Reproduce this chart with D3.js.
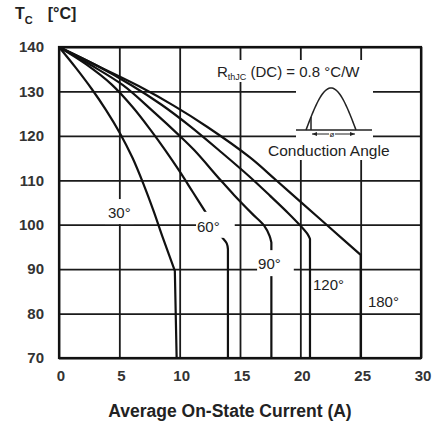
<!DOCTYPE html>
<html>
<head>
<meta charset="utf-8">
<script src="https://cdn.jsdelivr.net/npm/d3@7"></script>
<style>
  body { margin: 0; background: #fff; }
  text { font-family: "Liberation Sans", Arial, sans-serif; fill: #222; }
</style>
</head>
<body>
<div id="chart"></div>
<script>
// datos: corriente media (A) y temperatura de carcasa (°C)
var xTicks = [0, 5, 10, 15, 20, 25, 30];
var yTicks = [70, 80, 90, 100, 110, 120, 130, 140];
var angulos = ["30°", "60°", "90°", "120°", "180°"];

var curva30 = [[0,140],[1.4,135.3],[2.7,130.6],[3.9,125.8],[5.05,120.6],[6.1,115],[7.05,108.8],[7.85,103],[8.55,97.5],[9.15,93],[9.6,89.6],[9.75,70]];
var curva60 = [[0,140],[2.2,136.2],[4.35,131.6],[6.1,126.5],[7.6,121.3],[8.8,116.8],[10,112],[11.1,107.3],[12.2,102.6],[13.0,99.1],[13.5,97.2],[13.9,95.8],[14.0,94.5],[14.0,70]];
var curva90 = [[0,140],[2.6,136],[5.3,131.4],[7.8,125.5],[10.0,120],[11.2,116.8],[13.4,110],[14.5,106.7],[16.0,102.5],[17.0,99.8],[17.45,97.5],[17.6,96],[17.6,70]];
var curva120 = [[0,140],[3,136],[6,131.4],[8.5,127],[10.8,122.3],[13.5,116.2],[15.8,110.8],[17.5,106.5],[19,102.6],[20,99.8],[20.6,97.9],[20.8,96.8],[20.8,70]];
var curva180 = [[0,140],[3.3,135.6],[6.6,131.2],[9.5,126.8],[12.3,122],[15.8,115.2],[18,110],[20,105.2],[22.5,99.2],[25,93.2],[25,70]];

var curvas = [curva30, curva60, curva90, curva120, curva180];

var W = 432, H = 425;
var margin = {top: 47, right: 11, bottom: 67, left: 59};
var w = W - margin.left - margin.right,
    h = H - margin.top - margin.bottom;

var x = d3.scaleLinear().domain([0, 30]).range([0, w]);
var y = d3.scaleLinear().domain([70, 140]).range([h, 0]);

var svg = d3.select("#chart").append("svg")
  .attr("width", W).attr("height", H);

var g = svg.append("g")
  .attr("transform", "translate(" + margin.left + "," + margin.top + ")");

// rejilla
var xGrid = d3.axisBottom(x).tickValues(xTicks).tickSize(-h).tickFormat("");
var yGrid = d3.axisLeft(y).tickValues(yTicks).tickSize(-w).tickFormat("");
g.append("g").attr("class", "grid").attr("transform", "translate(0," + h + ")").call(xGrid);
g.append("g").attr("class", "grid").call(yGrid);
g.selectAll(".grid .domain").remove();
g.selectAll(".grid text").remove();
g.selectAll(".grid line").attr("stroke", "#1a1a1a").attr("stroke-width", 1.8);

// curvas: tramo suave y luego la bajada vertical
var suave = d3.line()
  .x(function(d) { return x(d[0]); })
  .y(function(d) { return y(d[1]); })
  .curve(d3.curveCatmullRom.alpha(0.5));

function trazo(d) {
  var ult = d[d.length - 1];
  return suave(d.slice(0, -1)) + "L" + x(ult[0]) + "," + y(ult[1]);
}

g.selectAll(".curva").data(curvas).enter().append("path")
  .attr("class", "curva")
  .attr("d", trazo)
  .attr("fill", "none")
  .attr("stroke", "#111")
  .attr("stroke-width", 2.2)
  .attr("stroke-linejoin", "round");

// etiquetas de los angulos (con fondo blanco que corta las lineas)
var posEtiq = [[4.06,101.5,3,7,3,5],[11.44,98.4,1,8,15,5],[16.5,90.0,1,7,13,6],[21.05,85.3,0,0,0,0],[25.6,81.5,0,0,0,0]];
angulos.forEach(function(a, i) {
  var p = posEtiq[i];
  var t = g.append("text")
    .attr("x", x(p[0])).attr("y", y(p[1]))
    .style("font-size", "15px")
    .text(a);
  if (p[2] || p[3] || p[4] || p[5]) {
    var b = t.node().getBBox();
    g.insert("rect", function() { return t.node(); })
      .attr("x", b.x - p[2]).attr("y", b.y + 2 - p[3])
      .attr("width", b.width + p[2] + p[4]).attr("height", b.height - 4 + p[3] + p[5])
      .attr("fill", "#fff");
  }
});

// leyenda: Rth y angulo de conduccion
var leg = svg.append("g");
leg.append("rect").attr("x", 213).attr("y", 60).attr("width", 160).attr("height", 22).attr("fill", "#fff");
leg.append("rect").attr("x", 296).attr("y", 82).attr("width", 77).attr("height", 56).attr("fill", "#fff");
leg.append("rect").attr("x", 265).attr("y", 138).attr("width", 136).attr("height", 22).attr("fill", "#fff");

var rth = leg.append("text").attr("x", 217).attr("y", 77).style("font-size", "15px");
rth.append("tspan").text("R");
rth.append("tspan").attr("dy", 3).style("font-size", "9px").text("thJC");
rth.append("tspan").attr("dy", -3).text(" (DC) = 0.8 °C/W");

// onda semisinusoidal recortada
var x0 = 306, x1 = 356, base = 130, alto = 42;
var onda = d3.range(0, 1.0001, 0.02).map(function(t) {
  return [x0 + t * (x1 - x0), base - alto * Math.sin(Math.PI * t)];
});
leg.append("path").attr("d", d3.line()(onda)).attr("fill", "none").attr("stroke", "#222").attr("stroke-width", 1.5);
var tc = 0.1;
leg.append("line").attr("x1", x0 + tc * (x1 - x0)).attr("x2", x0 + tc * (x1 - x0))
  .attr("y1", base).attr("y2", base - alto * Math.sin(Math.PI * tc))
  .attr("stroke", "#222").attr("stroke-width", 1.5);
leg.append("line").attr("x1", 296).attr("x2", 372).attr("y1", base).attr("y2", base)
  .attr("stroke", "#222").attr("stroke-width", 1.5);
// flecha del angulo
leg.append("line").attr("x1", 312).attr("x2", 355).attr("y1", 134).attr("y2", 134)
  .attr("stroke", "#222").attr("stroke-width", 1);
leg.append("path").attr("d", "M312,134 l5,-2 v4 z M355,134 l-5,-2 v4 z").attr("fill", "#222");
leg.append("rect").attr("x", 329).attr("y", 131).attr("width", 6).attr("height", 6).attr("fill", "#fff");
leg.append("text").attr("x", 332).attr("y", 137).attr("text-anchor", "middle").style("font-size", "8px").text("ø");

leg.append("text").attr("x", 268).attr("y", 156).style("font-size", "15.5px").text("Conduction Angle");

// borde del area de dibujo
g.append("rect").attr("width", w).attr("height", h)
  .attr("fill", "none").attr("stroke", "#111").attr("stroke-width", 2.2);

// ejes (solo etiquetas)
var xAxis = d3.axisBottom(x).tickValues(xTicks).tickSize(0).tickPadding(12);
var yAxis = d3.axisLeft(y).tickValues(yTicks).tickSize(0).tickPadding(15);
var gx = g.append("g").attr("transform", "translate(1.5," + h + ")").call(xAxis);
var gy = g.append("g").call(yAxis);
[gx, gy].forEach(function(a) {
  a.select(".domain").remove();
  a.selectAll("text")
    .style("font-family", "'Liberation Sans', Arial, sans-serif")
    .style("font-size", "15px").style("font-weight", "bold").style("fill", "#333");
});

// titulos
svg.append("text").attr("x", 230).attr("y", 417).attr("text-anchor", "middle")
  .style("font-size", "17.5px").style("font-weight", "bold")
  .text("Average On-State Current (A)");

var tt = svg.append("text").attr("x", 15).attr("y", 19)
  .style("font-size", "16px").style("font-weight", "bold");
tt.append("tspan").text("T");
tt.append("tspan").attr("dy", 5).style("font-size", "11px").text("C");
tt.append("tspan").attr("dy", -5).attr("dx", 15).text("[°C]");
</script>
</body>
</html>
